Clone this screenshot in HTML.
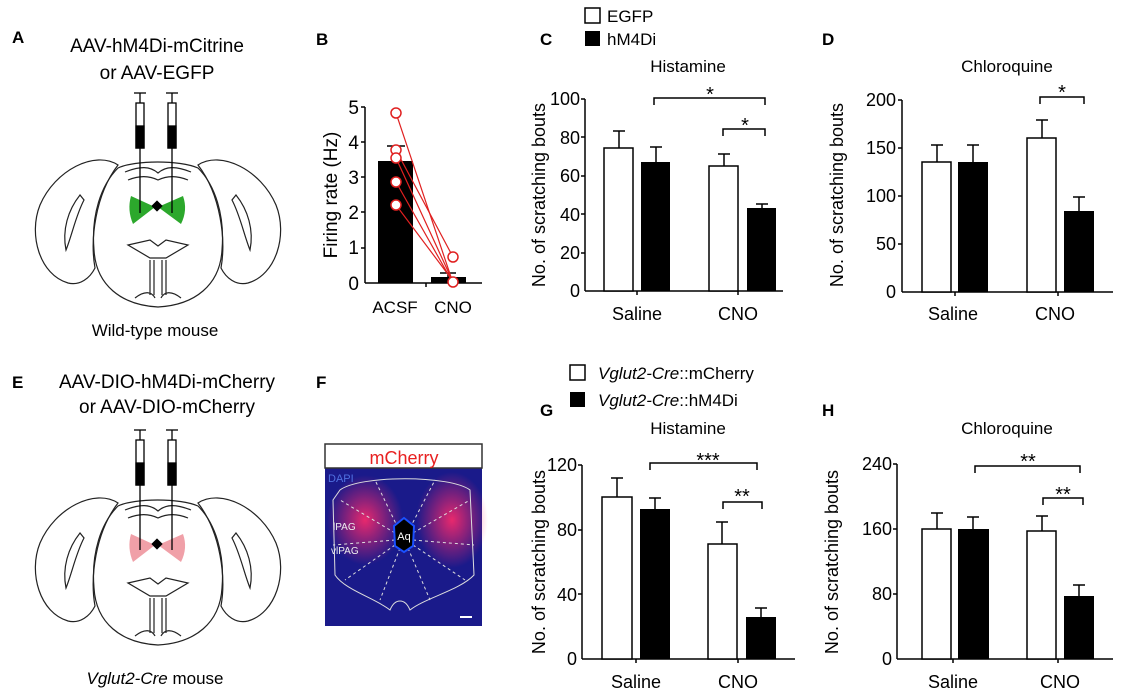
<!DOCTYPE html>
<html><head><meta charset="utf-8"><style>
body{margin:0;background:#fff;}
svg{display:block;font-family:"Liberation Sans",Arial,sans-serif;}
</style></head><body>
<svg width="1131" height="695" viewBox="0 0 1131 695" xmlns="http://www.w3.org/2000/svg">
<defs>
<radialGradient id="pk" cx="50%" cy="50%" r="50%"><stop offset="0" stop-color="#ff2a6a" stop-opacity="0.9"/><stop offset="1" stop-color="#ff2a6a" stop-opacity="0"/></radialGradient>
<g id="brain" fill="none" stroke="#222" stroke-width="1.2">
<path d="M118,165 C95,150 55,170 40,205 C28,235 40,275 68,283 C80,286 90,278 95,268 C90,240 95,195 118,165 Z"/>
<path d="M198,165 C221,150 261,170 276,205 C288,235 276,275 248,283 C236,286 226,278 221,268 C226,240 221,195 198,165 Z"/>
<path d="M118,168 C135,160 180,160 198,168 C215,185 225,215 222,250 C220,285 195,305 158,307 C121,305 96,285 94,250 C91,215 101,185 118,168 Z"/>
<path d="M80,195 C68,210 62,230 66,250 C72,235 76,215 84,200 Z"/>
<path d="M236,195 C248,210 254,230 250,250 C244,235 240,215 232,200 Z"/>
<path d="M125,172 C140,166 150,166 158,173 C166,166 176,166 191,172 M128,180 C140,175 150,176 158,180 C166,176 176,175 188,180"/>
<path d="M128,245 L150,240 L158,246 L166,240 L188,245 L166,258 L150,258 Z"/>
<path d="M150,260 V295 M154,260 V295 M162,260 V295 M166,260 V295"/>
<path d="M135,298 C145,290 152,292 155,298 M181,298 C171,290 164,292 161,298"/>
</g>
<g id="syr" stroke="#000" fill="none" stroke-width="1.3">
<line x1="-6" y1="0" x2="6" y2="0"/><line x1="0" y1="0" x2="0" y2="10"/>
<rect x="-4" y="10" width="8" height="45" fill="#fff"/>
<rect x="-4" y="33" width="8" height="22" fill="#000"/>
<line x1="0" y1="55" x2="0" y2="120"/>
</g>
</defs>

<g font-weight="bold" font-size="17">
<text x="12" y="43">A</text><text x="316" y="45">B</text><text x="540" y="45">C</text><text x="822" y="45">D</text>
<text x="12" y="388">E</text><text x="316" y="388">F</text><text x="540" y="416">G</text><text x="822" y="416">H</text>
</g>

<!-- A -->
<g font-size="19" text-anchor="middle">
<text x="157" y="52">AAV-hM4Di-mCitrine</text><text x="157" y="79">or AAV-EGFP</text>
<text x="155" y="336" font-size="17">Wild-type mouse</text>
</g>
<use href="#brain"/>
<path d="M131,196 Q127,210 133,224 L155,207 Z M183,196 Q188,210 181,224 L158,207 Z" fill="#2ca82c"/>
<rect x="153" y="202" width="8" height="8" transform="rotate(45 157 206)" fill="#000"/>
<use href="#syr" x="140" y="93"/><use href="#syr" x="172" y="93"/>

<!-- E -->
<g font-size="19" text-anchor="middle">
<text x="167" y="388">AAV-DIO-hM4Di-mCherry</text><text x="167" y="413">or AAV-DIO-mCherry</text>
<text x="155" y="684" font-size="17"><tspan font-style="italic">Vglut2-Cre</tspan> mouse</text>
</g>
<g transform="translate(0,338)"><use href="#brain"/>
<path d="M131,196 Q127,210 133,224 L155,207 Z M183,196 Q188,210 181,224 L158,207 Z" fill="#f0a0a8"/>
<rect x="153" y="202" width="8" height="8" transform="rotate(45 157 206)" fill="#000"/>
</g>
<use href="#syr" x="140" y="430"/><use href="#syr" x="172" y="430"/>

<!-- B -->
<g font-size="19" text-anchor="end">
<text x="359" y="114">5</text><text x="359" y="149">4</text><text x="359" y="184">3</text><text x="359" y="219">2</text><text x="359" y="254">1</text><text x="359" y="290">0</text>
</g>
<g stroke="#000" stroke-width="1.5">
<line x1="365" y1="107" x2="365" y2="283"/>
<line x1="365" y1="283" x2="482" y2="283"/>
<line x1="361" y1="107" x2="365" y2="107"/><line x1="361" y1="142" x2="365" y2="142"/><line x1="361" y1="177" x2="365" y2="177"/><line x1="361" y1="212" x2="365" y2="212"/><line x1="361" y1="248" x2="365" y2="248"/>
<line x1="426" y1="283" x2="426" y2="287"/>
</g>
<rect x="378" y="161" width="35" height="122" fill="#000"/>
<rect x="431" y="277" width="35" height="6" fill="#000"/>
<g stroke="#000" stroke-width="1.5"><line x1="396" y1="146" x2="396" y2="161"/><line x1="387" y1="146" x2="405" y2="146"/>
<line x1="448" y1="273" x2="448" y2="277"/><line x1="440" y1="273" x2="456" y2="273"/></g>
<g stroke="#e02020" stroke-width="1.2" fill="none">
<line x1="396" y1="113" x2="453" y2="283"/><line x1="396" y1="150" x2="453" y2="257"/><line x1="396" y1="158" x2="453" y2="282"/><line x1="396" y1="182" x2="453" y2="283"/><line x1="396" y1="205" x2="453" y2="281"/>
<g fill="#fff" stroke-width="1.5"><circle cx="396" cy="113" r="5"/><circle cx="396" cy="150" r="5"/><circle cx="396" cy="158" r="5"/><circle cx="396" cy="182" r="5"/><circle cx="396" cy="205" r="5"/><circle cx="453" cy="257" r="5"/><circle cx="453" cy="282" r="5"/></g>
</g>
<text x="337" y="195" font-size="19" text-anchor="middle" transform="rotate(-90 337 195)">Firing rate (Hz)</text>
<text x="395" y="313" font-size="17" text-anchor="middle">ACSF</text><text x="453" y="313" font-size="17" text-anchor="middle">CNO</text>

<!-- C -->
<rect x="585" y="8" width="15" height="15" fill="#fff" stroke="#000" stroke-width="1.5"/><text x="607" y="22" font-size="17">EGFP</text>
<rect x="585" y="31" width="15" height="15" fill="#000"/><text x="607" y="45" font-size="17">hM4Di</text>
<text x="688" y="72" font-size="17" text-anchor="middle">Histamine</text>
<g font-size="18" text-anchor="end"><text x="580" y="105">100</text><text x="580" y="144">80</text><text x="580" y="182">60</text><text x="580" y="221">40</text><text x="580" y="259">20</text><text x="580" y="297">0</text></g>
<g stroke="#000" stroke-width="1.5" fill="none">
<line x1="585" y1="99" x2="585" y2="291"/><line x1="585" y1="291" x2="783" y2="291"/>
<path d="M581,99H585M581,137H585M581,176H585M581,214H585M581,253H585M637,291V295M738,291V295"/>
<path d="M619,131V148M613,131H625M656,147V162M650,147H662M724,154V166M718,154H730M762,204V208M756,204H768"/>
<rect x="604" y="148" width="29" height="143" fill="#fff"/><rect x="709" y="166" width="29" height="125" fill="#fff"/>
<path d="M654,105V98H765V105M723,136V129H765V136"/>
</g>
<rect x="641" y="162" width="29" height="129" fill="#000"/><rect x="747" y="208" width="29" height="83" fill="#000"/>
<text x="710" y="101" font-size="20" text-anchor="middle">*</text><text x="745" y="132" font-size="20" text-anchor="middle">*</text>
<text x="545" y="195" font-size="18" text-anchor="middle" transform="rotate(-90 545 195)">No. of scratching bouts</text>
<text x="637" y="320" font-size="18" text-anchor="middle">Saline</text><text x="738" y="320" font-size="18" text-anchor="middle">CNO</text>

<!-- D -->
<text x="1007" y="72" font-size="17" text-anchor="middle">Chloroquine</text>
<g font-size="18" text-anchor="end"><text x="896" y="106">200</text><text x="896" y="154">150</text><text x="896" y="202">100</text><text x="896" y="250">50</text><text x="896" y="298">0</text></g>
<g stroke="#000" stroke-width="1.5" fill="none">
<line x1="902" y1="100" x2="902" y2="292"/><line x1="902" y1="292" x2="1113" y2="292"/>
<path d="M898,100H902M898,148H902M898,196H902M898,244H902M955,292V296M1058,292V296"/>
<path d="M937,145V162M931,145H943M973,145V162M967,145H979M1042,120V138M1036,120H1048M1079,197V211M1073,197H1085"/>
<rect x="922" y="162" width="29" height="130" fill="#fff"/><rect x="1027" y="138" width="29" height="154" fill="#fff"/>
<path d="M1040,104V97H1084V104"/>
</g>
<rect x="958" y="162" width="30" height="130" fill="#000"/><rect x="1064" y="211" width="30" height="81" fill="#000"/>
<text x="1062" y="99" font-size="20" text-anchor="middle">*</text>
<text x="843" y="195" font-size="18" text-anchor="middle" transform="rotate(-90 843 195)">No. of scratching bouts</text>
<text x="953" y="320" font-size="18" text-anchor="middle">Saline</text><text x="1055" y="320" font-size="18" text-anchor="middle">CNO</text>

<!-- F -->
<rect x="325" y="444" width="157" height="182" fill="#1a1a8a"/>
<ellipse cx="365" cy="520" rx="38" ry="45" fill="url(#pk)"/>
<ellipse cx="452" cy="520" rx="36" ry="48" fill="url(#pk)"/>
<rect x="325" y="444" width="157" height="24" fill="#fff" stroke="#333" stroke-width="1.5"/>
<text x="404" y="464" font-size="18" fill="#e82020" text-anchor="middle">mCherry</text>
<text x="328" y="482" font-size="11" fill="#5070e0">DAPI</text>
<g stroke="#ddd" stroke-width="1" fill="none">
<path d="M340,490 C360,475 450,475 470,490 L474,575 C460,590 425,598 410,610 C405,598 395,598 390,610 C375,598 345,590 335,575 L333,500 Z"/>
<g stroke-dasharray="3,3"><path d="M395,533L340,500M395,540L333,545M395,545L345,580M413,533L470,500M413,540L474,545M413,545L465,580M398,528L375,480M410,528L435,480M400,548L380,600M408,548L430,600"/></g>
</g>
<path d="M404,518 L414,526 L413,546 L404,552 L395,546 L394,526 Z" fill="#000" stroke="#1a50ff" stroke-width="2"/>
<text x="404" y="540" font-size="11" fill="#fff" text-anchor="middle">Aq</text>
<text x="333" y="530" font-size="10" fill="#eee">lPAG</text><text x="331" y="554" font-size="10" fill="#eee">vlPAG</text>
<line x1="460" y1="617" x2="472" y2="617" stroke="#fff" stroke-width="2"/>

<!-- G -->
<rect x="570" y="365" width="15" height="15" fill="#fff" stroke="#000" stroke-width="1.5"/><text x="598" y="379" font-size="17"><tspan font-style="italic">Vglut2-Cre</tspan>::mCherry</text>
<rect x="570" y="392" width="15" height="15" fill="#000"/><text x="598" y="406" font-size="17"><tspan font-style="italic">Vglut2-Cre</tspan>::hM4Di</text>
<text x="688" y="434" font-size="17" text-anchor="middle">Histamine</text>
<g font-size="18" text-anchor="end"><text x="577" y="471">120</text><text x="577" y="536">80</text><text x="577" y="601">40</text><text x="577" y="665">0</text></g>
<g stroke="#000" stroke-width="1.5" fill="none">
<line x1="582" y1="465" x2="582" y2="659"/><line x1="582" y1="659" x2="795" y2="659"/>
<path d="M578,465H582M578,530H582M578,594H582M636,659V663M738,659V663"/>
<path d="M617,478V497M611,478H623M655,498V509M649,498H661M722,522V544M716,522H728M761,608V617M755,608H767"/>
<rect x="602" y="497" width="30" height="162" fill="#fff"/><rect x="708" y="544" width="29" height="115" fill="#fff"/>
<path d="M650,470V463H757V470M723,509V502H762V509"/>
</g>
<rect x="640" y="509" width="30" height="150" fill="#000"/><rect x="746" y="617" width="30" height="42" fill="#000"/>
<text x="708" y="467" font-size="20" text-anchor="middle">***</text><text x="742" y="503" font-size="20" text-anchor="middle">**</text>
<text x="545" y="562" font-size="18" text-anchor="middle" transform="rotate(-90 545 562)">No. of scratching bouts</text>
<text x="636" y="688" font-size="18" text-anchor="middle">Saline</text><text x="738" y="688" font-size="18" text-anchor="middle">CNO</text>

<!-- H -->
<text x="1007" y="434" font-size="17" text-anchor="middle">Chloroquine</text>
<g font-size="18" text-anchor="end"><text x="892" y="470">240</text><text x="892" y="535">160</text><text x="892" y="600">80</text><text x="892" y="665">0</text></g>
<g stroke="#000" stroke-width="1.5" fill="none">
<line x1="897" y1="464" x2="897" y2="659"/><line x1="897" y1="659" x2="1113" y2="659"/>
<path d="M893,464H897M893,529H897M893,594H897M953,659V663M1058,659V663"/>
<path d="M937,513V529M931,513H943M973,517V529M967,517H979M1042,516V531M1036,516H1048M1079,585V596M1073,585H1085"/>
<rect x="922" y="529" width="29" height="130" fill="#fff"/><rect x="1027" y="531" width="29" height="128" fill="#fff"/>
<path d="M975,473V466H1080V473M1043,505V498H1083V505"/>
</g>
<rect x="958" y="529" width="31" height="130" fill="#000"/><rect x="1064" y="596" width="30" height="63" fill="#000"/>
<text x="1028" y="468" font-size="20" text-anchor="middle">**</text><text x="1063" y="501" font-size="20" text-anchor="middle">**</text>
<text x="838" y="562" font-size="18" text-anchor="middle" transform="rotate(-90 838 562)">No. of scratching bouts</text>
<text x="953" y="688" font-size="18" text-anchor="middle">Saline</text><text x="1060" y="688" font-size="18" text-anchor="middle">CNO</text>
</svg>
</body></html>
